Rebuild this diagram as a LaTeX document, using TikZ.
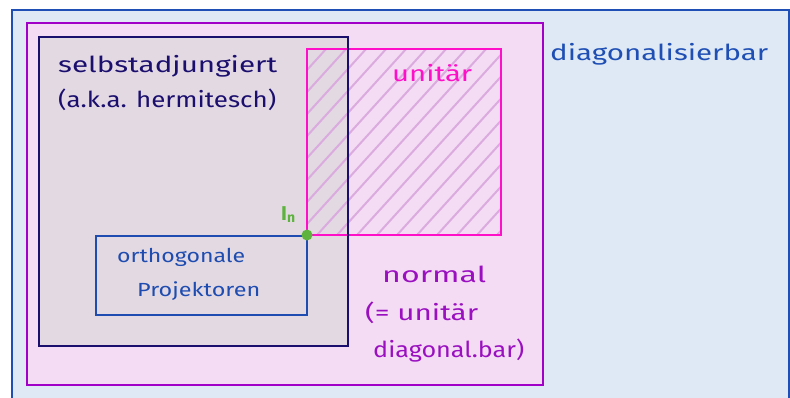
\documentclass[tikz,border=0pt]{standalone}
\usepackage{fontspec}
\setmainfont{Fira Sans}
\usepackage{graphicx}
\definecolor{outerfill}{HTML}{DEE9F5}
\definecolor{outerline}{HTML}{1F4FB5}
\definecolor{normfill}{HTML}{F4DDF4}
\definecolor{normline}{HTML}{A000C8}
\definecolor{normtext}{HTML}{9A10C0}
\definecolor{selbfill}{HTML}{E3D9E3}
\definecolor{selbline}{HTML}{1B0F6E}
\definecolor{unitline}{HTML}{FF10C8}
\definecolor{hatchcol}{HTML}{DBAADF}
\definecolor{orthline}{HTML}{1E4CB0}
\definecolor{idgreen}{HTML}{5DB33E}
% stretch a label horizontally to a given width, keeping its height
\newcommand\fitto[2]{\resizebox{#1}{\height}{#2}}
\begin{document}
\begin{tikzpicture}[x=1pt,y=-1pt,
  frame/.style={line width=2.8pt},
  hatchline/.style={draw=hatchcol,line width=2pt},
  lbl/.style={inner sep=0pt,anchor=base west,font=\fontsize{22}{22}\selectfont},
  smalllbl/.style={lbl,font=\fontsize{19}{19}\selectfont}]
\useasboundingbox (0,0) rectangle (790,398);
\fill[white] (0,0) rectangle (790,398);

% fills, from the outermost set inwards
\fill[outerfill] (12,10) rectangle (789,404);
\fill[normfill] (27,23) rectangle (543,385);
\fill[selbfill] (39,37) rectangle (348,346);

% hatching of the unitary set
\begin{scope}
  \clip (307,49) rectangle (501,235);
  \foreach \s in {137,157,...,517}
    \draw[hatchline] (\s,235) -- ++(200,-220);
\end{scope}

% outlines
\draw[frame,outerline] (12,10) rectangle (789,404);
\draw[frame,normline] (27,23) rectangle (543,385);
\draw[frame,orthline] (96,236) rectangle (307,315);
\draw[frame,unitline] (307,49) rectangle (501,235);
\draw[frame,selbline] (39,37) rectangle (348,346);

% identity matrix
\fill[idgreen] (307,235) circle (5.5pt);
\node[inner sep=0pt,anchor=base west,text=idgreen,font=\fontsize{20}{20}\selectfont\bfseries]
  (idn) at (281,221) {I\raisebox{-2pt}{\fontsize{14}{14}\selectfont n}};

% labels
\node[lbl,text=selbline] (selb1) at (58,73) {\fitto{219pt}{selbstadjungiert}};
\node[lbl,text=selbline] (selb2) at (58,108) {\fitto{218pt}{(a.k.a. hermitesch)}};
\node[lbl,text=unitline] (unit) at (392,82) {\fitto{80pt}{unitär}};
\node[lbl,text=outerline] (diag) at (550,61) {\fitto{218pt}{diagonalisierbar}};
\node[smalllbl,text=orthline] (orth1) at (117,262) {\fitto{128pt}{orthogonale}};
\node[smalllbl,text=orthline] (orth2) at (137,297) {\fitto{123pt}{Projektoren}};
\node[lbl,text=normtext] (norm1) at (382,282) {\fitto{104pt}{normal}};
\node[lbl,text=normtext] (norm2) at (365,320) {\fitto{113pt}{(= unitär}};
\node[lbl,text=normtext] (norm3) at (373,357) {\fitto{151pt}{diagonal.bar)}};
\end{tikzpicture}
\end{document}
